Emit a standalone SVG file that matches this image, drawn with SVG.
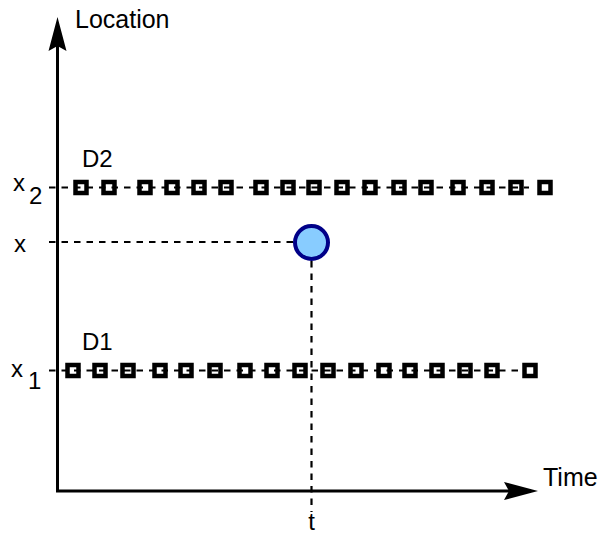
<svg xmlns="http://www.w3.org/2000/svg" width="601" height="540" viewBox="0 0 601 540">
  <style>
    text { font-family: "Liberation Sans", Arial, sans-serif; font-size: 24px; fill: #000; }
    .axis { stroke: #000; stroke-width: 3; fill: none; }
    .dash { stroke: #000; stroke-width: 2.2; fill: none; stroke-dasharray: 6.5 6; }
    .sample { stroke: #000; stroke-width: 4.5; fill: none; }
    .head { fill: #000; stroke: none; }
  </style>
  <defs>
    <rect id="sq" x="-5.5" y="-5.5" width="11" height="11" class="sample"/>
  </defs>

  <rect width="601" height="540" fill="#fff"/>

  <!-- connectors: axes, guides and sample rows -->
  <g id="connectors">
    <line class="axis" x1="57.5" y1="491" x2="57.5" y2="40"/>
    <path class="head" d="M57.5,17 L66.5,51 L57.5,46 L48.5,51 Z"/>
    <line class="axis" x1="56" y1="491" x2="515" y2="491"/>
    <path class="head" d="M538,491 L504,500 L509,491 L504,482 Z"/>

    <line class="dash" x1="49" y1="187.5" x2="529" y2="187.5"/>
    <line class="dash" x1="49" y1="370.5" x2="524" y2="370.5"/>
    <line class="dash" x1="49" y1="242" x2="294" y2="242"/>
    <line class="dash" x1="311.5" y1="261" x2="311.5" y2="512"/>
  </g>

  <!-- sensor D2 samples at x2 -->
  <g id="d2">
    <text x="82" y="167">D2</text>
    <use href="#sq" x="81" y="187.5"/>
    <use href="#sq" x="109" y="187.5"/>
    <use href="#sq" x="145" y="187.5"/>
    <use href="#sq" x="172" y="187.5"/>
    <use href="#sq" x="199" y="187.5"/>
    <use href="#sq" x="226" y="187.5"/>
    <use href="#sq" x="261" y="187.5"/>
    <use href="#sq" x="288" y="187.5"/>
    <use href="#sq" x="314" y="187.5"/>
    <use href="#sq" x="342" y="187.5"/>
    <use href="#sq" x="370" y="187.5"/>
    <use href="#sq" x="399" y="187.5"/>
    <use href="#sq" x="426" y="187.5"/>
    <use href="#sq" x="458" y="187.5"/>
    <use href="#sq" x="487" y="187.5"/>
    <use href="#sq" x="516" y="187.5"/>
    <use href="#sq" x="545" y="187.5"/>
  </g>

  <!-- sensor D1 samples at x1 -->
  <g id="d1">
    <text x="82" y="350">D1</text>
    <use href="#sq" x="73" y="370.5"/>
    <use href="#sq" x="100" y="370.5"/>
    <use href="#sq" x="128" y="370.5"/>
    <use href="#sq" x="160" y="370.5"/>
    <use href="#sq" x="186" y="370.5"/>
    <use href="#sq" x="215" y="370.5"/>
    <use href="#sq" x="245" y="370.5"/>
    <use href="#sq" x="272" y="370.5"/>
    <use href="#sq" x="300" y="370.5"/>
    <use href="#sq" x="328" y="370.5"/>
    <use href="#sq" x="356" y="370.5"/>
    <use href="#sq" x="384" y="370.5"/>
    <use href="#sq" x="410" y="370.5"/>
    <use href="#sq" x="437" y="370.5"/>
    <use href="#sq" x="465" y="370.5"/>
    <use href="#sq" x="492" y="370.5"/>
    <use href="#sq" x="530" y="370.5"/>
  </g>

  <!-- query point (t, x) -->
  <g id="point">
    <circle cx="311.5" cy="242.5" r="16.5" fill="#88ccff" stroke="#000088" stroke-width="4"/>
  </g>

  <!-- axis labels -->
  <g id="labels">
    <text x="75" y="28" style="font-size:25px">Location</text>
    <text x="543" y="486" style="font-size:25px">Time</text>
    <text x="311.5" y="530" text-anchor="middle">t</text>
    <text x="13" y="191">x</text>
    <text x="29" y="204">2</text>
    <text x="14" y="252">x</text>
    <text x="11" y="377">x</text>
    <text x="28" y="389">1</text>
  </g>
</svg>
